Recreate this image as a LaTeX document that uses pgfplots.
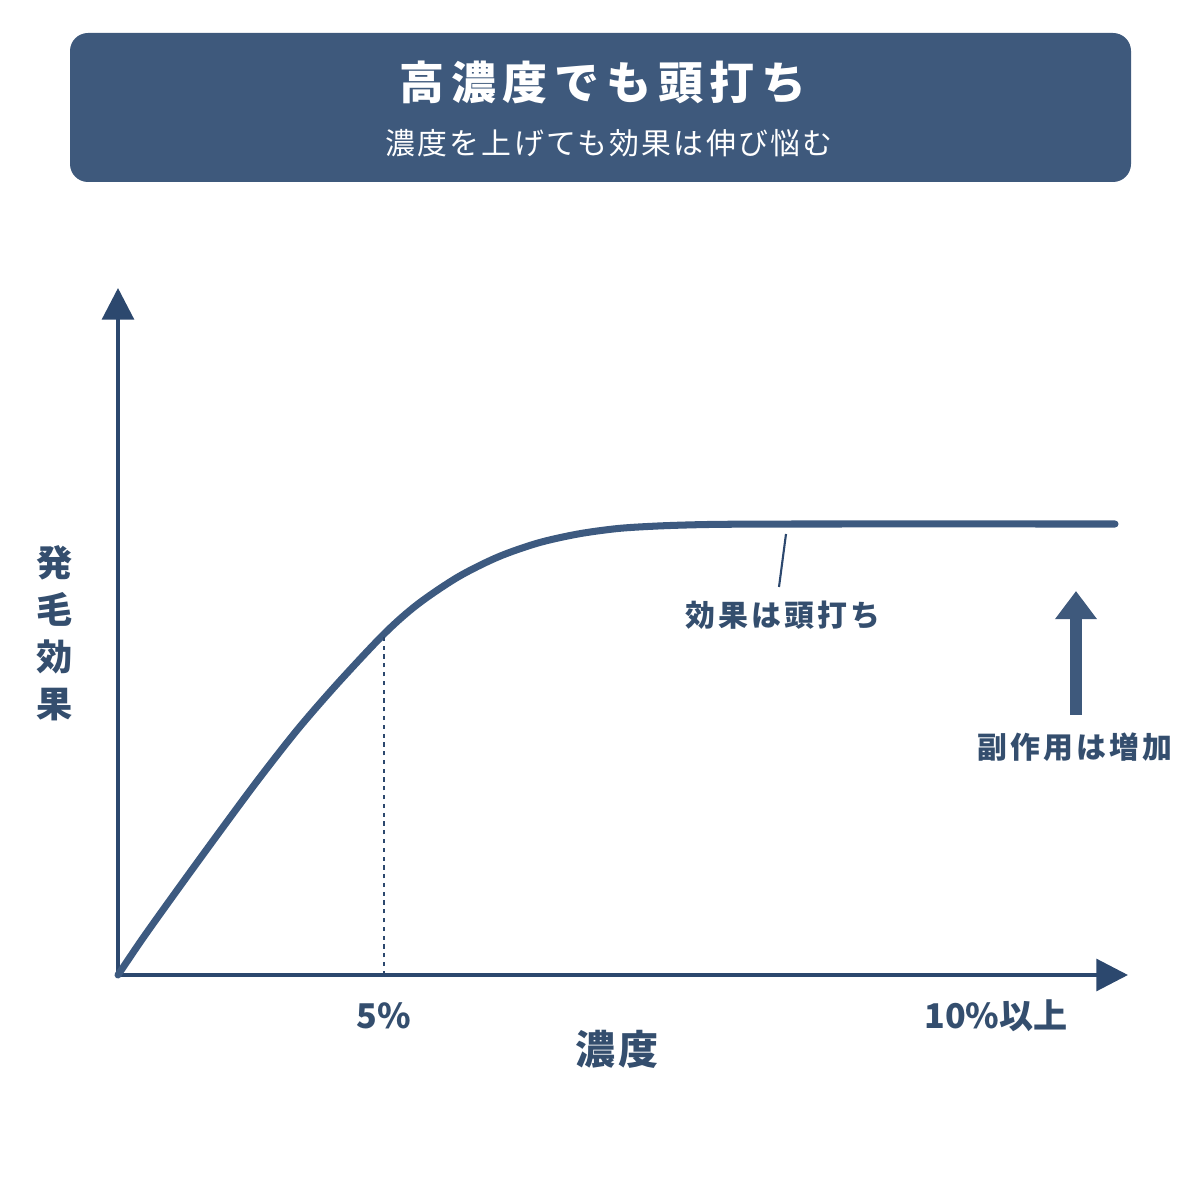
\documentclass[border=0pt]{standalone}
\usepackage{fontspec}
\setmainfont{Noto Sans CJK JP}
\usepackage{pgfplots}
\pgfplotsset{compat=1.18}
\usetikzlibrary{arrows.meta}
\definecolor{boxcol}{RGB}{62,89,124}
\definecolor{axiscol}{RGB}{44,72,110}
\definecolor{curvecol}{RGB}{61,90,128}
\definecolor{textcol}{RGB}{52,78,110}
\begin{document}
\begin{tikzpicture}
\path[use as bounding box] (0,0) rectangle (12,12);
\fill[boxcol, rounded corners=0.18cm] (0.70,10.18) rectangle (11.31,11.67);
\node[text=white, inner sep=0pt, font=\fontsize{12.8}{15}\selectfont\bfseries\addfontfeature{LetterSpace=15}] at (6.03,11.175) {高濃度でも頭打ち};
\node[text=white, inner sep=0pt, font=\fontsize{8.5}{10}\selectfont\addfontfeature{LetterSpace=8}] at (6.09,10.565) {濃度を上げても効果は伸び悩む};
\begin{axis}[
  at={(1.18cm,2.25cm)}, anchor=south west,
  scale only axis, width=10.10cm, height=6.87cm,
  xmin=0, xmax=1010, ymin=0, ymax=687,
  axis lines=left,
  axis line style={draw=axiscol, line width=1.15pt, -{Triangle[width=9pt,length=9pt]}},
  xtick={266,878}, xticklabels={5\%,10\%以上},
  ytick=\empty,
  major tick length=0pt,
  /pgf/number format/assume math mode=true,
  xticklabel style={font=\fontsize{9.7}{12}\selectfont\bfseries, text=textcol, anchor=center, yshift=-0.41cm},
  xlabel={濃度},
  xlabel style={at={(axis cs:499,-74)}, anchor=center, font=\fontsize{11.4}{13}\selectfont\bfseries\addfontfeature{LetterSpace=8}, text=textcol},
  ylabel={発\\毛\\効\\果},
  ylabel style={at={(axis cs:-63,342)}, anchor=center, rotate=-90, align=center, font=\fontsize{10.3}{13.4}\selectfont\bfseries, text=textcol},
  clip=false,
]
\addplot[curvecol, line width=2pt, smooth, line cap=round] coordinates {
(0,0) (25,37) (60,86) (100,141) (140,195) (180,246) (220,292) (267,342) (300,371) (340,398) (380,418) (420,432) (460,441) (500,446.5) (540,449) (580,450.3) (620,450.8) (700,451) (997,451)
};
\addplot[axiscol, line width=0.6pt, dash pattern=on 1.2pt off 1.3pt] coordinates {(266,0) (266,340)};
\addplot[axiscol, line width=0.6pt] coordinates {(668,441) (661,388)};
\node[font=\fontsize{8.5}{10}\selectfont\bfseries\addfontfeature{LetterSpace=10}, text=textcol] at (axis cs:665,360) {効果は頭打ち};
\draw[boxcol, line width=3.4pt, -{Triangle[width=11.4pt,length=8pt]}] (axis cs:958,260) -- (axis cs:958,384);
\node[font=\fontsize{8.5}{10}\selectfont\bfseries\addfontfeature{LetterSpace=10}, text=textcol] at (axis cs:957,228) {副作用は増加};
\end{axis}
\end{tikzpicture}
\end{document}
